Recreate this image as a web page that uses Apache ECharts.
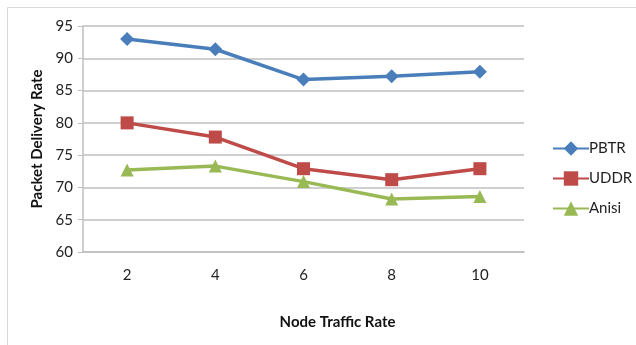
<!DOCTYPE html>
<html>
<head>
<meta charset="utf-8">
<script src="https://cdn.jsdelivr.net/npm/echarts@6/dist/echarts.min.js"></script>
<style>
  html, body { margin: 0; padding: 0; background: #fff; }
  #chart { width: 636px; height: 345px; }
</style>
</head>
<body>
<div id="chart"></div>
<script>
// x 轴类别
const categories = ['2', '4', '6', '8', '10']
// 各系列数值
const pbtr = [93.0, 91.4, 86.7, 87.2, 87.9]
const uddr = [80.0, 77.8, 72.9, 71.2, 72.9]
const anisi = [72.7, 73.3, 70.9, 68.2, 68.6]

const FONT = 'Lato'
const GRID_COLOR = '#bfbfbf'

const chart = echarts.init(document.getElementById('chart'))

const lineSeries = (name, data, color, symbol, size) => ({
  name,
  type: 'line',
  data,
  symbol,
  symbolSize: size,
  lineStyle: { color, width: 3.5 },
  itemStyle: { color },
  animation: false
})

chart.setOption({
  backgroundColor: '#fff',
  textStyle: { fontFamily: FONT },
  graphic: [{
    type: 'rect',
    shape: { x: 7.5, y: 7.5, width: 640, height: 345 },
    style: { fill: 'none', stroke: '#d9d9d9', lineWidth: 1 }
  }],
  grid: { left: 83, right: 112, top: 26, bottom: 93 },
  legend: {
    orient: 'vertical',
    left: 547,
    top: 136,
    itemGap: 15,
    itemWidth: 36,
    itemHeight: 18,
    textStyle: { fontFamily: FONT, fontSize: 15, color: '#222', padding: [0, 0, 0, -5] },
    data: ['PBTR', 'UDDR', 'Anisi']
  },
  xAxis: {
    type: 'category',
    data: categories,
    name: 'Node Traffic Rate',
    nameLocation: 'middle',
    nameGap: 63,
    nameTextStyle: { fontFamily: FONT, fontSize: 15, fontWeight: 'bold', color: '#111', padding: [0, 0, 0, 68] },
    axisLine: { lineStyle: { color: GRID_COLOR, width: 1.5 } },
    axisTick: { show: false },
    axisLabel: { fontFamily: FONT, fontSize: 15, color: '#222', margin: 16 }
  },
  yAxis: {
    type: 'value',
    min: 60,
    max: 95,
    interval: 5,
    name: 'Packet Delivery Rate',
    nameLocation: 'middle',
    nameGap: 38,
    nameTextStyle: { fontFamily: FONT, fontSize: 15, fontWeight: 'bold', color: '#111' },
    axisLine: { show: true, lineStyle: { color: GRID_COLOR, width: 1.5 } },
    axisTick: { show: true, length: 5, lineStyle: { color: GRID_COLOR } },
    axisLabel: { fontFamily: FONT, fontSize: 15, color: '#222', margin: 10 },
    splitLine: { lineStyle: { color: GRID_COLOR, width: 1.5 } }
  },
  series: [
    lineSeries('PBTR', pbtr, '#4a7ebb', 'diamond', 14),
    lineSeries('UDDR', uddr, '#be4b48', 'rect', 13),
    lineSeries('Anisi', anisi, '#98b954', 'triangle', 13)
  ]
})
</script>
</body>
</html>
